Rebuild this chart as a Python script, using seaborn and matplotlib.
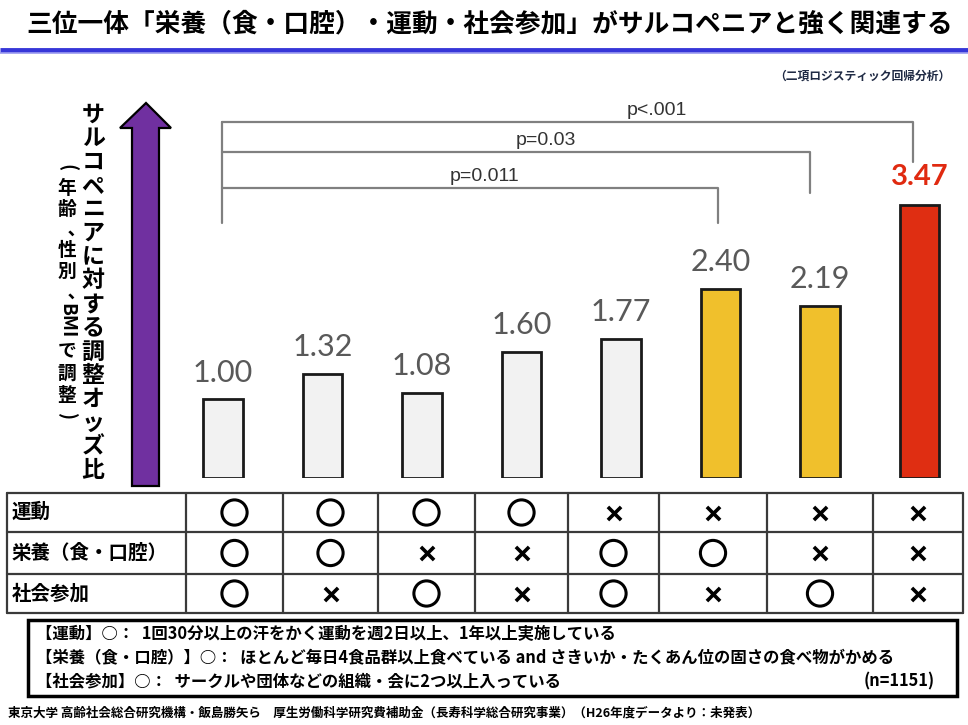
import matplotlib
matplotlib.use("Agg")
import matplotlib.pyplot as plt
import matplotlib.patches as mpatches
import seaborn as sns
import pandas as pd

# data
groups = ["G1", "G2", "G3", "G4", "G5", "G6", "G7", "G8"]
odds = [1.00, 1.32, 1.08, 1.60, 1.77, 2.40, 2.19, 3.47]
bar_colors = ["#f2f2f2"] * 5 + ["#f0c02c", "#f0c02c", "#df2e12"]
row_names = ["運動", "栄養（食・口腔）", "社会参加"]
exercise = ["○", "○", "○", "○", "×", "×", "×", "×"]
nutrition = ["○", "○", "×", "×", "○", "○", "×", "×"]
social = ["○", "×", "○", "×", "○", "×", "○", "×"]
p_labels = ["p<.001", "p=0.03", "p=0.011"]
p_targets = [7, 6, 5]

title = "三位一体「栄養（食・口腔）・運動・社会参加」がサルコペニアと強く関連する"
subtitle = "（二項ロジスティック回帰分析）"
ylab = "サルコペニアに対する調整オッズ比"
ylab2 = ["(", "年", "齢", "､", "性", "別", "､", "BMI", "で", "調", "整", ")"]
notes = ["【運動】○：  1回30分以上の汗をかく運動を週2日以上、1年以上実施している",
         "【栄養（食・口腔）】○：  ほとんど毎日4食品群以上食べている and さきいか・たくあん位の固さの食べ物がかめる",
         "【社会参加】○：  サークルや団体などの組織・会に2つ以上入っている"]
n_text = "(n=1151)"
footer = "東京大学 高齢社会総合研究機構・飯島勝矢ら　厚生労働科学研究費補助金（長寿科学総合研究事業）（H26年度データより：未発表）"

sns.set_theme(style="white")
JP = ["Noto Sans CJK JP", "DejaVu Sans"]
plt.rcParams["font.family"] = JP

W, H = 968, 725
fig = plt.figure(figsize=(W / 100, H / 100), dpi=100)

# main bar axes, positioned in pixels
step = 99.5
x0_px, base_px, top_px = 223, 478, 90
px_per_unit = 78.7
xl, xr = -0.35, 7.4
left = x0_px + xl * step
right = x0_px + xr * step
ax = fig.add_axes([left / W, 1 - base_px / H, (right - left) / W, (base_px - top_px) / H])
df = pd.DataFrame({"group": groups, "odds": odds})
sns.barplot(data=df, x="group", y="odds", hue="group", palette=bar_colors,
            legend=False, width=0.4, edgecolor="#1a1a1a", linewidth=2, ax=ax,
            saturation=1)
ax.set_xlim(xl, xr)
ax.set_ylim(0, (base_px - top_px) / px_per_unit)
ax.axis("off")

for i, v in enumerate(odds):
    if i == len(odds) - 1:
        ax.text(i, v + 0.36, f"{v:.2f}", ha="center", va="center", fontsize=21,
                color="#e02a10", fontweight="bold", family=["Lato", "DejaVu Sans"])
    else:
        ax.text(i, v + 0.34, f"{v:.2f}", ha="center", va="center", fontsize=22,
                color="#595959", family=["Lato", "DejaVu Sans"])

# significance brackets
bk_top = [4.52, 4.14, 3.68]
bk_drop = [4.02, 3.62, 3.24]
bk_shift = [-0.07, -0.1, -0.03]
p_x = [4.36, 3.24, 2.63]
gray = "#808080"
ax.plot([-0.01, -0.01], [bk_top[0], bk_drop[2]], color=gray, lw=1.6)
for lab, t, top, drop, sh, px in zip(p_labels, p_targets, bk_top, bk_drop, bk_shift, p_x):
    ax.plot([-0.01, t + sh, t + sh], [top, top, drop], color=gray, lw=1.6)
    ax.text(px, top + 0.04, lab, ha="center", va="bottom", fontsize=14,
            color="#333333", family=["Liberation Sans Narrow", "Liberation Sans"])

# overlay in pixel coordinates
ov = fig.add_axes([0, 0, 1, 1])
ov.set_xlim(0, W)
ov.set_ylim(H, 0)
ov.axis("off")
ov.patch.set_alpha(0)

ov.text(490, 24, title, ha="center", va="center", fontsize=18.5, fontweight="bold", color="black")
ov.plot([0, W], [50, 50], color="#3636d8", lw=3.5, solid_capstyle="butt")
ov.plot([0, W], [52.5, 52.5], color="#9a9af0", lw=1.2, solid_capstyle="butt")
ov.text(950, 76, subtitle, ha="right", va="center", fontsize=8.5, fontweight="bold", color="#1f2a44")

# purple arrow
arrow = mpatches.Polygon([(132, 486), (132, 128), (120, 128), (146, 103), (171, 128),
                          (159, 128), (159, 486)], closed=True,
                         facecolor="#7030a0", edgecolor="black", lw=1.6)
ov.add_patch(arrow)

# vertical labels
for k, ch in enumerate(ylab):
    ov.text(93, 115 + k * 23.7, ch, ha="center", va="center", fontsize=16.5,
            fontweight="bold", color="black")
ys = [168, 188, 209, 229, 250, 271, 292, 321, 351, 373, 395, 416]
for ch, y in zip(ylab2, ys):
    if ch == "､":
        ov.text(68, y, ch, ha="left", va="center", fontsize=13.5,
                fontweight="bold", color="black")
        continue
    rot = -90 if ch in ("BMI", "(", ")") else 0
    ov.text(67, y, ch, ha="center", va="center", fontsize=13.5, fontweight="bold",
            color="black", rotation=rot)

# table
col_edges = [7, 186, 283, 378, 475, 568, 659, 767, 873, 963]
row_edges = [493, 532, 574, 613]
line_c = "#3a3a3a"
for y in row_edges:
    ov.plot([col_edges[0], col_edges[-1]], [y, y], color=line_c, lw=1.6)
for x in col_edges:
    ov.plot([x, x], [row_edges[0], row_edges[-1]], color=line_c, lw=1.6)
for r, (name, marks) in enumerate(zip(row_names, [exercise, nutrition, social])):
    yc = (row_edges[r] + row_edges[r + 1]) / 2
    ov.text(12, yc, name, ha="left", va="center", fontsize=14, fontweight="bold", color="black")
    for c, m in enumerate(marks):
        xc = (col_edges[c + 1] + col_edges[c + 2]) / 2
        if m == "○":
            ov.scatter(xc, yc, s=330, marker="o", facecolors="none", edgecolors="black", linewidths=2.2)
        else:
            ov.scatter(xc, yc, s=90, marker="x", color="black", linewidths=2.6)

# legend box
box = mpatches.Rectangle((28, 620), 929, 76, facecolor="white", edgecolor="black", lw=2.5)
ov.add_patch(box)
for k, line in enumerate(notes):
    ov.text(36, 634 + k * 23.5, line, ha="left", va="center", fontsize=11.8, fontweight="bold", color="black")
ov.text(935, 681, n_text, ha="right", va="center", fontsize=11.8, fontweight="bold", color="black")

ov.text(8, 713, footer, ha="left", va="center", fontsize=9, fontweight="bold", color="black")

fig.savefig("out.png", dpi=100)
